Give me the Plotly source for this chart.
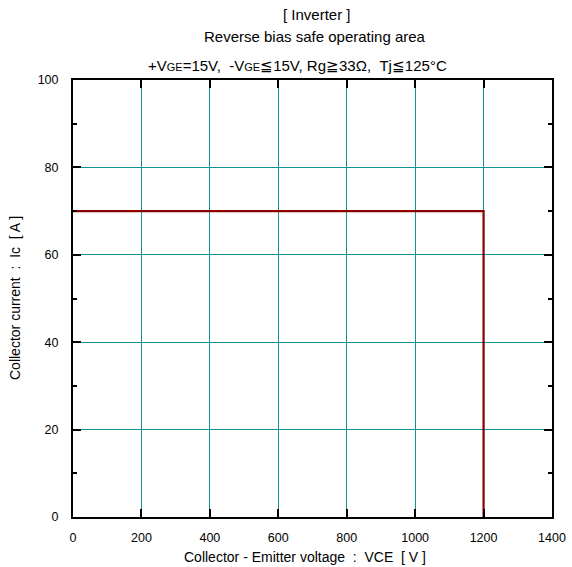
import plotly.graph_objects as go

# Data: RBSOA boundary
vce = [0, 1200, 1200]
ic = [70, 70, 0]

x_ticks = [0, 200, 400, 600, 800, 1000, 1200, 1400]
y_ticks = [0, 20, 40, 60, 80, 100]

title1 = "[ Inverter ]"
title2 = "Reverse bias safe operating area"
sub = "<span style='font-size:11px'>GE</span>"
title3 = ("+V" + sub + "=15V,\u00a0\u00a0-V" + sub + "≦15V, Rg≧33Ω,\u00a0\u00a0Tj≦125°C")
xlabel = "Collector - Emitter voltage\u00a0\u00a0:\u00a0\u00a0VCE\u00a0\u00a0[ V ]"
ylabel = "Collector current\u00a0\u00a0:\u00a0\u00a0Ic\u00a0\u00a0[ A ]"

L, R, T, B = 73, 552, 80, 517
W, H = 572, 567

fig = go.Figure()
fig.add_trace(go.Scatter(x=vce, y=ic, mode="lines",
                         line=dict(color="#8B0000", width=2.2), showlegend=False,
                         hoverinfo="skip"))

font = dict(family="Liberation Sans, Arial, sans-serif", size=12.5, color="black")

fig.update_layout(
    width=W, height=H,
    margin=dict(l=L, r=W - R, t=T, b=H - B),
    plot_bgcolor="white", paper_bgcolor="white",
    font=font,
    showlegend=False,
)

grid_color = "#129494"
fig.update_xaxes(
    range=[0, 1400], tickvals=x_ticks, ticktext=[str(v) for v in x_ticks],
    showgrid=True, gridcolor=grid_color, gridwidth=1,
    showline=True, linecolor="black", linewidth=2, mirror="ticks",
    ticks="inside", ticklen=8, tickwidth=2, tickcolor="black",
    zeroline=False, ticklabelstandoff=8, automargin=False,
)
fig.update_yaxes(
    range=[0, 100], tickvals=y_ticks, ticktext=[str(v) for v in y_ticks],
    showgrid=True, gridcolor=grid_color, gridwidth=1,
    showline=True, linecolor="black", linewidth=2, mirror="ticks",
    ticks="inside", ticklen=8, tickwidth=2, tickcolor="black",
    minor=dict(dtick=10, tick0=0, ticks="inside", ticklen=4, tickwidth=2,
               tickcolor="black", showgrid=False),
    zeroline=False, ticklabelstandoff=10, automargin=False,
)

pw, ph = R - L, B - T
for txt, xc, y in [(title1, 317, 15), (title2, 315, 37), (title3, 297, 65)]:
    fig.add_annotation(text=txt, xref="paper", yref="paper",
                       x=(xc - L) / pw, y=(B - y) / ph,
                       xanchor="center", yanchor="middle", showarrow=False,
                       font=dict(size=15, color="black"))

fig.add_annotation(text=xlabel, xref="paper", yref="paper",
                   x=(305 - L) / pw, y=(B - 557) / ph,
                   xanchor="center", yanchor="middle", showarrow=False,
                   font=dict(size=14, color="black"))
fig.add_annotation(text=ylabel, xref="paper", yref="paper",
                   x=(15 - L) / pw, y=(B - 298) / ph, textangle=-90,
                   xanchor="center", yanchor="middle", showarrow=False,
                   font=dict(size=14, color="black"))

fig.write_html("out.html", config={"displayModeBar": False})

with open("out.html", encoding="utf-8") as f:
    html = f.read()
html = html.replace("<body>", "<body style=\"margin:0;padding:0\">", 1)
with open("out.html", "w", encoding="utf-8") as f:
    f.write(html)
